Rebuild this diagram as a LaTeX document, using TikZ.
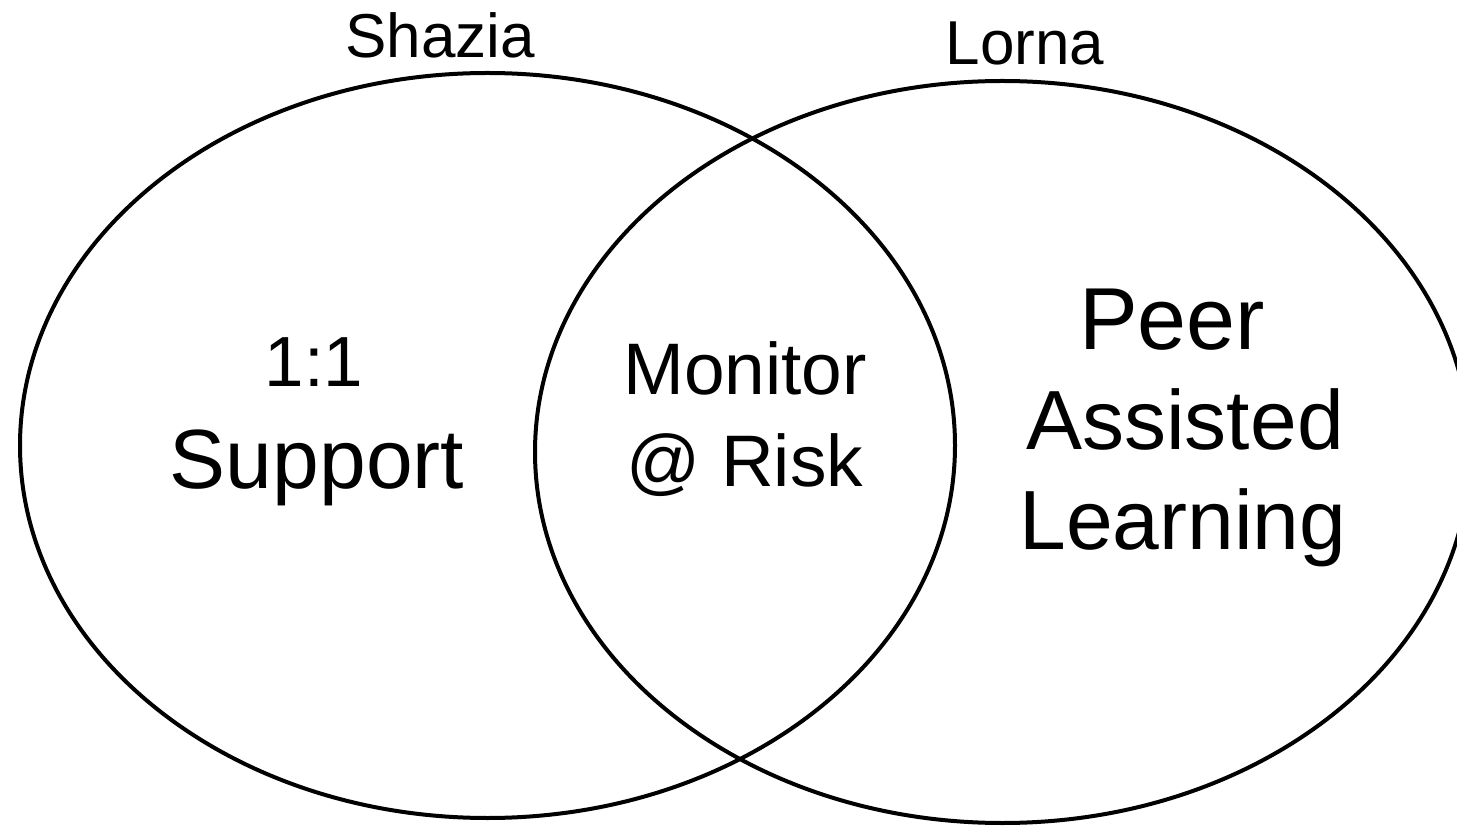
\documentclass[tikz,border=0pt]{standalone}
\usepackage{fontspec}
\setmainfont{Liberation Sans}
\begin{document}
\begin{tikzpicture}[x=0.5pt,y=-0.5pt,
  venn/.style={draw=black,line width=2pt},
  lbl/.style={anchor=base,inner sep=0pt,font=\fontsize{31}{36}\selectfont},
  big/.style={anchor=base,inner sep=0pt,font=\fontsize{42}{50}\selectfont},
  mid/.style={anchor=base,inner sep=0pt,font=\fontsize{36.5}{44}\selectfont}]
\useasboundingbox (0,0) rectangle (1457,828);
\fill[white] (0,0) rectangle (1457,828);
\begin{scope}
\clip (0,0) rectangle (1457,828);
\draw[venn] (487.5,445.5) ellipse [x radius=467.5, y radius=372.5];
\draw[venn] (1002.5,452) ellipse [x radius=467.5, y radius=371];
\end{scope}
\node[lbl] (shazia) at (440,58) {Shazia};
\node[lbl] (lorna) at (1025,65) {Lorna};
\node[anchor=base,inner sep=0pt,font=\fontsize{35.5}{42}\selectfont] (one) at (314,387) {1:1};
\node[big] (support) at (317,488) {Support};
\node[mid] (monitor) at (745,395) {Monitor};
\node[mid] (risk) at (745,487) {@ Risk};
\node[big,font=\fontsize{44}{50}\selectfont] (peer) at (1172,350) {Peer};
\node[big] (assisted) at (1185,450) {Assisted};
\node[big] (learning) at (1183,550) {Learning};
\end{tikzpicture}
\end{document}
